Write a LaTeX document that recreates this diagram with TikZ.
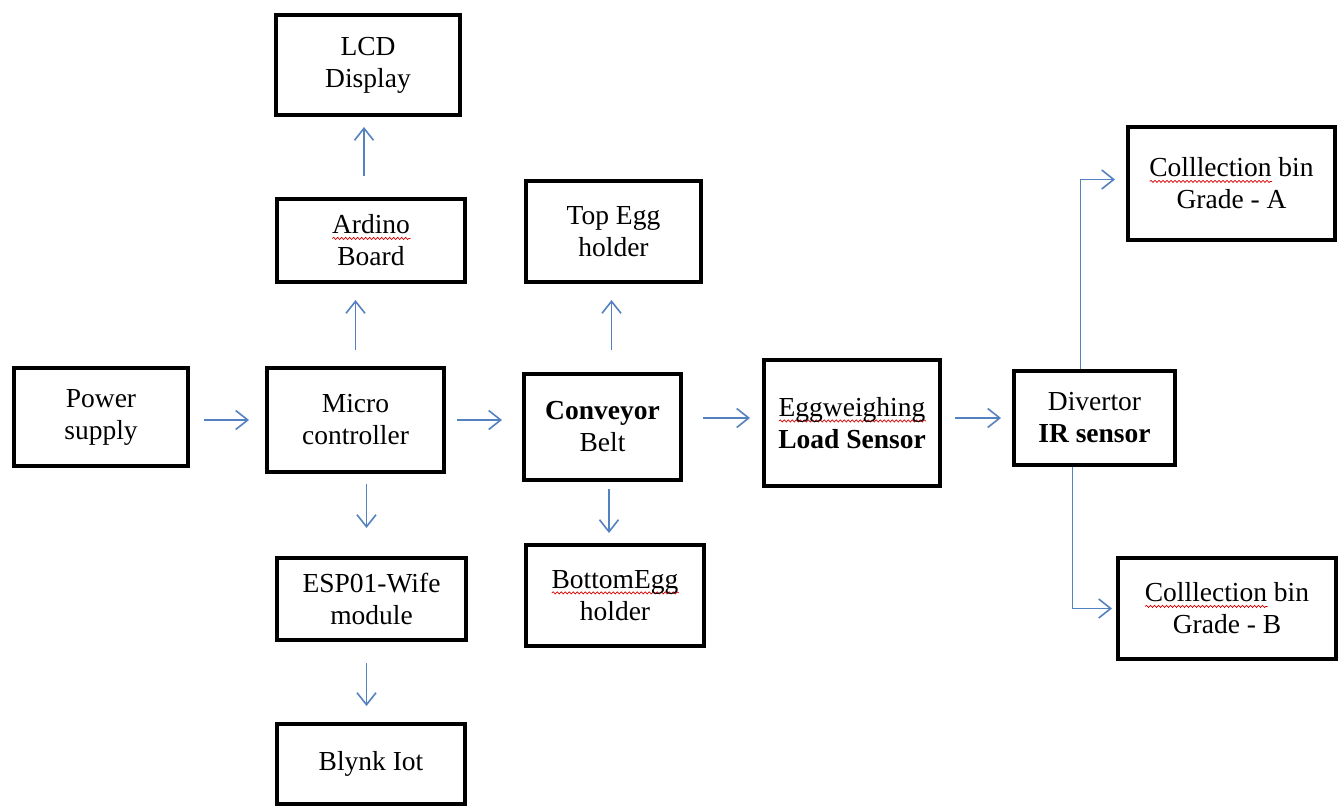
\documentclass[tikz,border=0pt]{standalone}
\usepackage{fontspec}
\setmainfont{Liberation Serif}
\usetikzlibrary{arrows.meta,calc,decorations.pathmorphing}
\definecolor{arrblue}{RGB}{84,130,192}
\newsavebox\sqbox
\newcommand\sq[1]{\sbox\sqbox{#1}\rlap{\smash{\tikz[x=1pt,y=1pt,baseline=0pt]\draw[red!85!black, line width=0.7pt, line cap=round, decorate, decoration={snake, amplitude=1.1pt, segment length=4pt}] (0,-4.5) -- (\the\wd\sqbox,-4.5);}}\usebox\sqbox}
\begin{document}
\begin{tikzpicture}[x=1pt,y=-1pt,
  box/.style={draw=black, line width=4pt, align=center, inner sep=0pt,
    font=\fontsize{27.5}{32}\selectfont, text=black},
  arr/.style={draw=arrblue, line width=1.6pt,
    -{Straight Barb[length=12pt,width=19pt,line width=1.6pt]}},
  ]
\useasboundingbox[fill=white] (0,0) rectangle (1341,807);

\node[box, minimum width=184pt, minimum height=100pt] (lcd) at (368,65) {LCD\\Display};
\node[box, minimum width=188pt, minimum height=83pt] (ard) at (371,240.5) {\sq{Ardino}\\Board};
\node[box, minimum width=175pt, minimum height=101pt] (top) at (613.5,231.5) {Top Egg\\holder};
\node[box, minimum width=174pt, minimum height=98pt] (pow) at (101,417) {Power\\supply};
\node[box, minimum width=177pt, minimum height=104pt] (mic) at (355.5,420) {Micro\\controller};
\node[box, minimum width=157pt, minimum height=106pt] (con) at (602.5,427) {\textbf{Conveyor}\\Belt};
\node[box, minimum width=176pt, minimum height=126pt] (egg) at (852,423) {\sq{Eggweighing}\\\textbf{Load Sensor}};
\node[box, minimum width=161pt, minimum height=94pt] (div) at (1094.5,418) {Divertor\\\textbf{IR sensor}};
\node[box, minimum width=207pt, minimum height=113pt] (gra) at (1231.5,183.5) {\sq{Colllection} bin\\Grade - A};
\node[box, minimum width=218pt, minimum height=101pt] (grb) at (1227,608.5) {\sq{Colllection} bin\\Grade - B};
\node[box, minimum width=189pt, minimum height=82pt] (esp) at (371.5,599) {ESP01-Wife\\module};
\node[box, minimum width=178pt, minimum height=101pt] (bot) at (615,595.5) {\sq{BottomEgg}\\holder};
\node[box, minimum width=188pt, minimum height=80pt] (bly) at (371,764) {Blynk Iot};

% horizontal flow
\draw[arr, shorten <=14pt, shorten >=16pt] (pow.east |- mic.center) -- (mic.west);
\draw[arr, shorten <=11pt, shorten >=20pt] (mic.east) -- (mic.east -| con.west);
\draw[arr, shorten <=20pt, shorten >=12pt] (con.east |- div.center) -- (egg.west |- div.center);
\draw[arr, shorten <=13pt, shorten >=11pt] (egg.east |- div.center) -- (div.west);

% vertical arrows
\draw[arr, shorten <=16pt, shorten >=16pt] (mic.north) -- (mic.north |- ard.south);
\draw[arr, shorten <=21pt, shorten >=10pt] ($(lcd.south |- ard.north)+(-4,0)$) -- ($(lcd.south)+(-4,0)$);
\draw[arr, shorten <=22pt, shorten >=16pt] ($(top.south |- con.north)+(-2,0)$) -- ($(top.south)+(-2,0)$);
\draw[arr, shorten <=10pt, shorten >=28pt] ($(esp.north |- mic.south)+(-5,0)$) -- ($(esp.north)+(-5,0)$);
\draw[arr, shorten <=21pt, shorten >=16pt] ($(esp.south)+(-5,0)$) -- ($(esp.south |- bly.north)+(-5,0)$);
\draw[arr, shorten <=7pt, shorten >=10pt] ($(bot.north |- con.south)+(-6,0)$) -- ($(bot.north)+(-6,0)$);

% divertor branches
\coordinate (dA) at ($(div.north)+(-14,0)$);
\coordinate (dB) at ($(div.south)+(-22,0)$);
\draw[arr, shorten >=11pt] (dA) |- ($(gra.west)+(0,-4)$);
\draw[arr, shorten >=4pt] (dB) |- (grb.west);
\end{tikzpicture}
\end{document}
